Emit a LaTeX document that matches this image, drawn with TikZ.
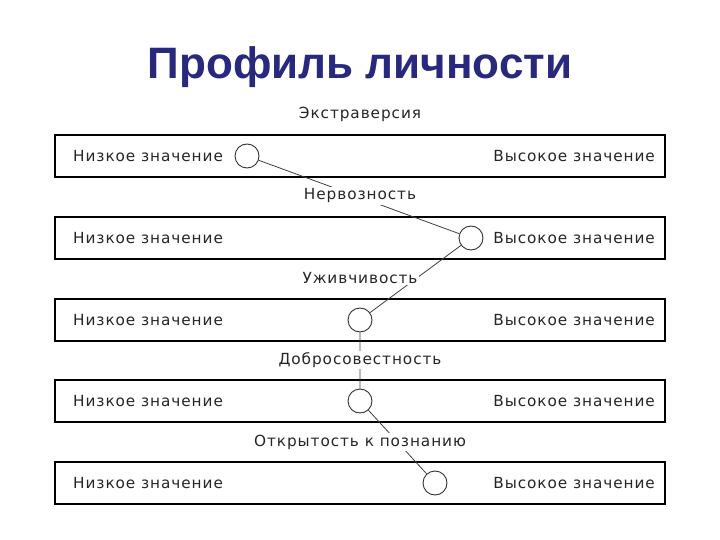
\documentclass[tikz,border=0pt]{standalone}
\usepackage{fontspec}
\setmainfont{DejaVu Sans}
\newfontfamily\titlefont{Liberation Sans}
\newfontfamily\labelfont[LetterSpace=6]{DejaVu Sans}
\usetikzlibrary{positioning}
\definecolor{titleblue}{RGB}{40,40,125}
\tikzset{
  bar/.style={draw=black,line width=1.4pt},
  dot/.style={circle,draw=black!80,line width=0.9pt,fill=white,minimum size=24pt,inner sep=0pt},
  lowtext/.style={anchor=west,font=\labelfont\fontsize{15.3}{15}\selectfont,text=black!85,inner sep=0pt},
  hightext/.style={anchor=east,font=\labelfont\fontsize{15.3}{15}\selectfont,text=black!85,inner sep=0pt},
  trait/.style={font=\labelfont\fontsize{15.3}{15}\selectfont,text=black!85,fill=white,inner sep=1.5pt},
  link/.style={draw=black!75,line width=0.8pt}
}
\begin{document}
\begin{tikzpicture}[x=1pt,y=-1pt]
  \useasboundingbox (0,0) rectangle (720,540);
  \fill[white] (0,0) rectangle (720,540);

  \node[font=\titlefont\bfseries\fontsize{44}{44}\selectfont,text=titleblue] (title) at (360,67) {Профиль личности};

  % bars with the two ends of each scale
  \foreach \i / \y in {1/156,2/238,3/320,4/401,5/483}
  {
    \draw[bar] (55,\y-21) rectangle (665,\y+21);
    \node[lowtext] (low\i) at (73,\y) {Низкое значение};
    \node[hightext] (high\i) at (655,\y) {Высокое значение};
  }

  % position on each scale
  \node[dot] (c1) at (247,156) {};
  \node[dot] (c2) at (471,238) {};
  \node[dot] (c3) at (360,320) {};
  \node[dot] (c4) at (360,401) {};
  \node[dot] (c5) at (435,483) {};

  \draw[link] (c1) -- (c2) -- (c3) -- (c4) -- (c5);

  % trait names
  \node[trait] (t1) at (360,114) {Экстраверсия};
  \node[trait] (t2) at (360,196) {Нервозность};
  \node[trait] (t3) at (360,278) {Уживчивость};
  \node[trait] (t4) at (360,360) {Добросовестность};
  \node[trait] (t5) at (360,442) {Открытость к познанию};

\end{tikzpicture}
\end{document}
